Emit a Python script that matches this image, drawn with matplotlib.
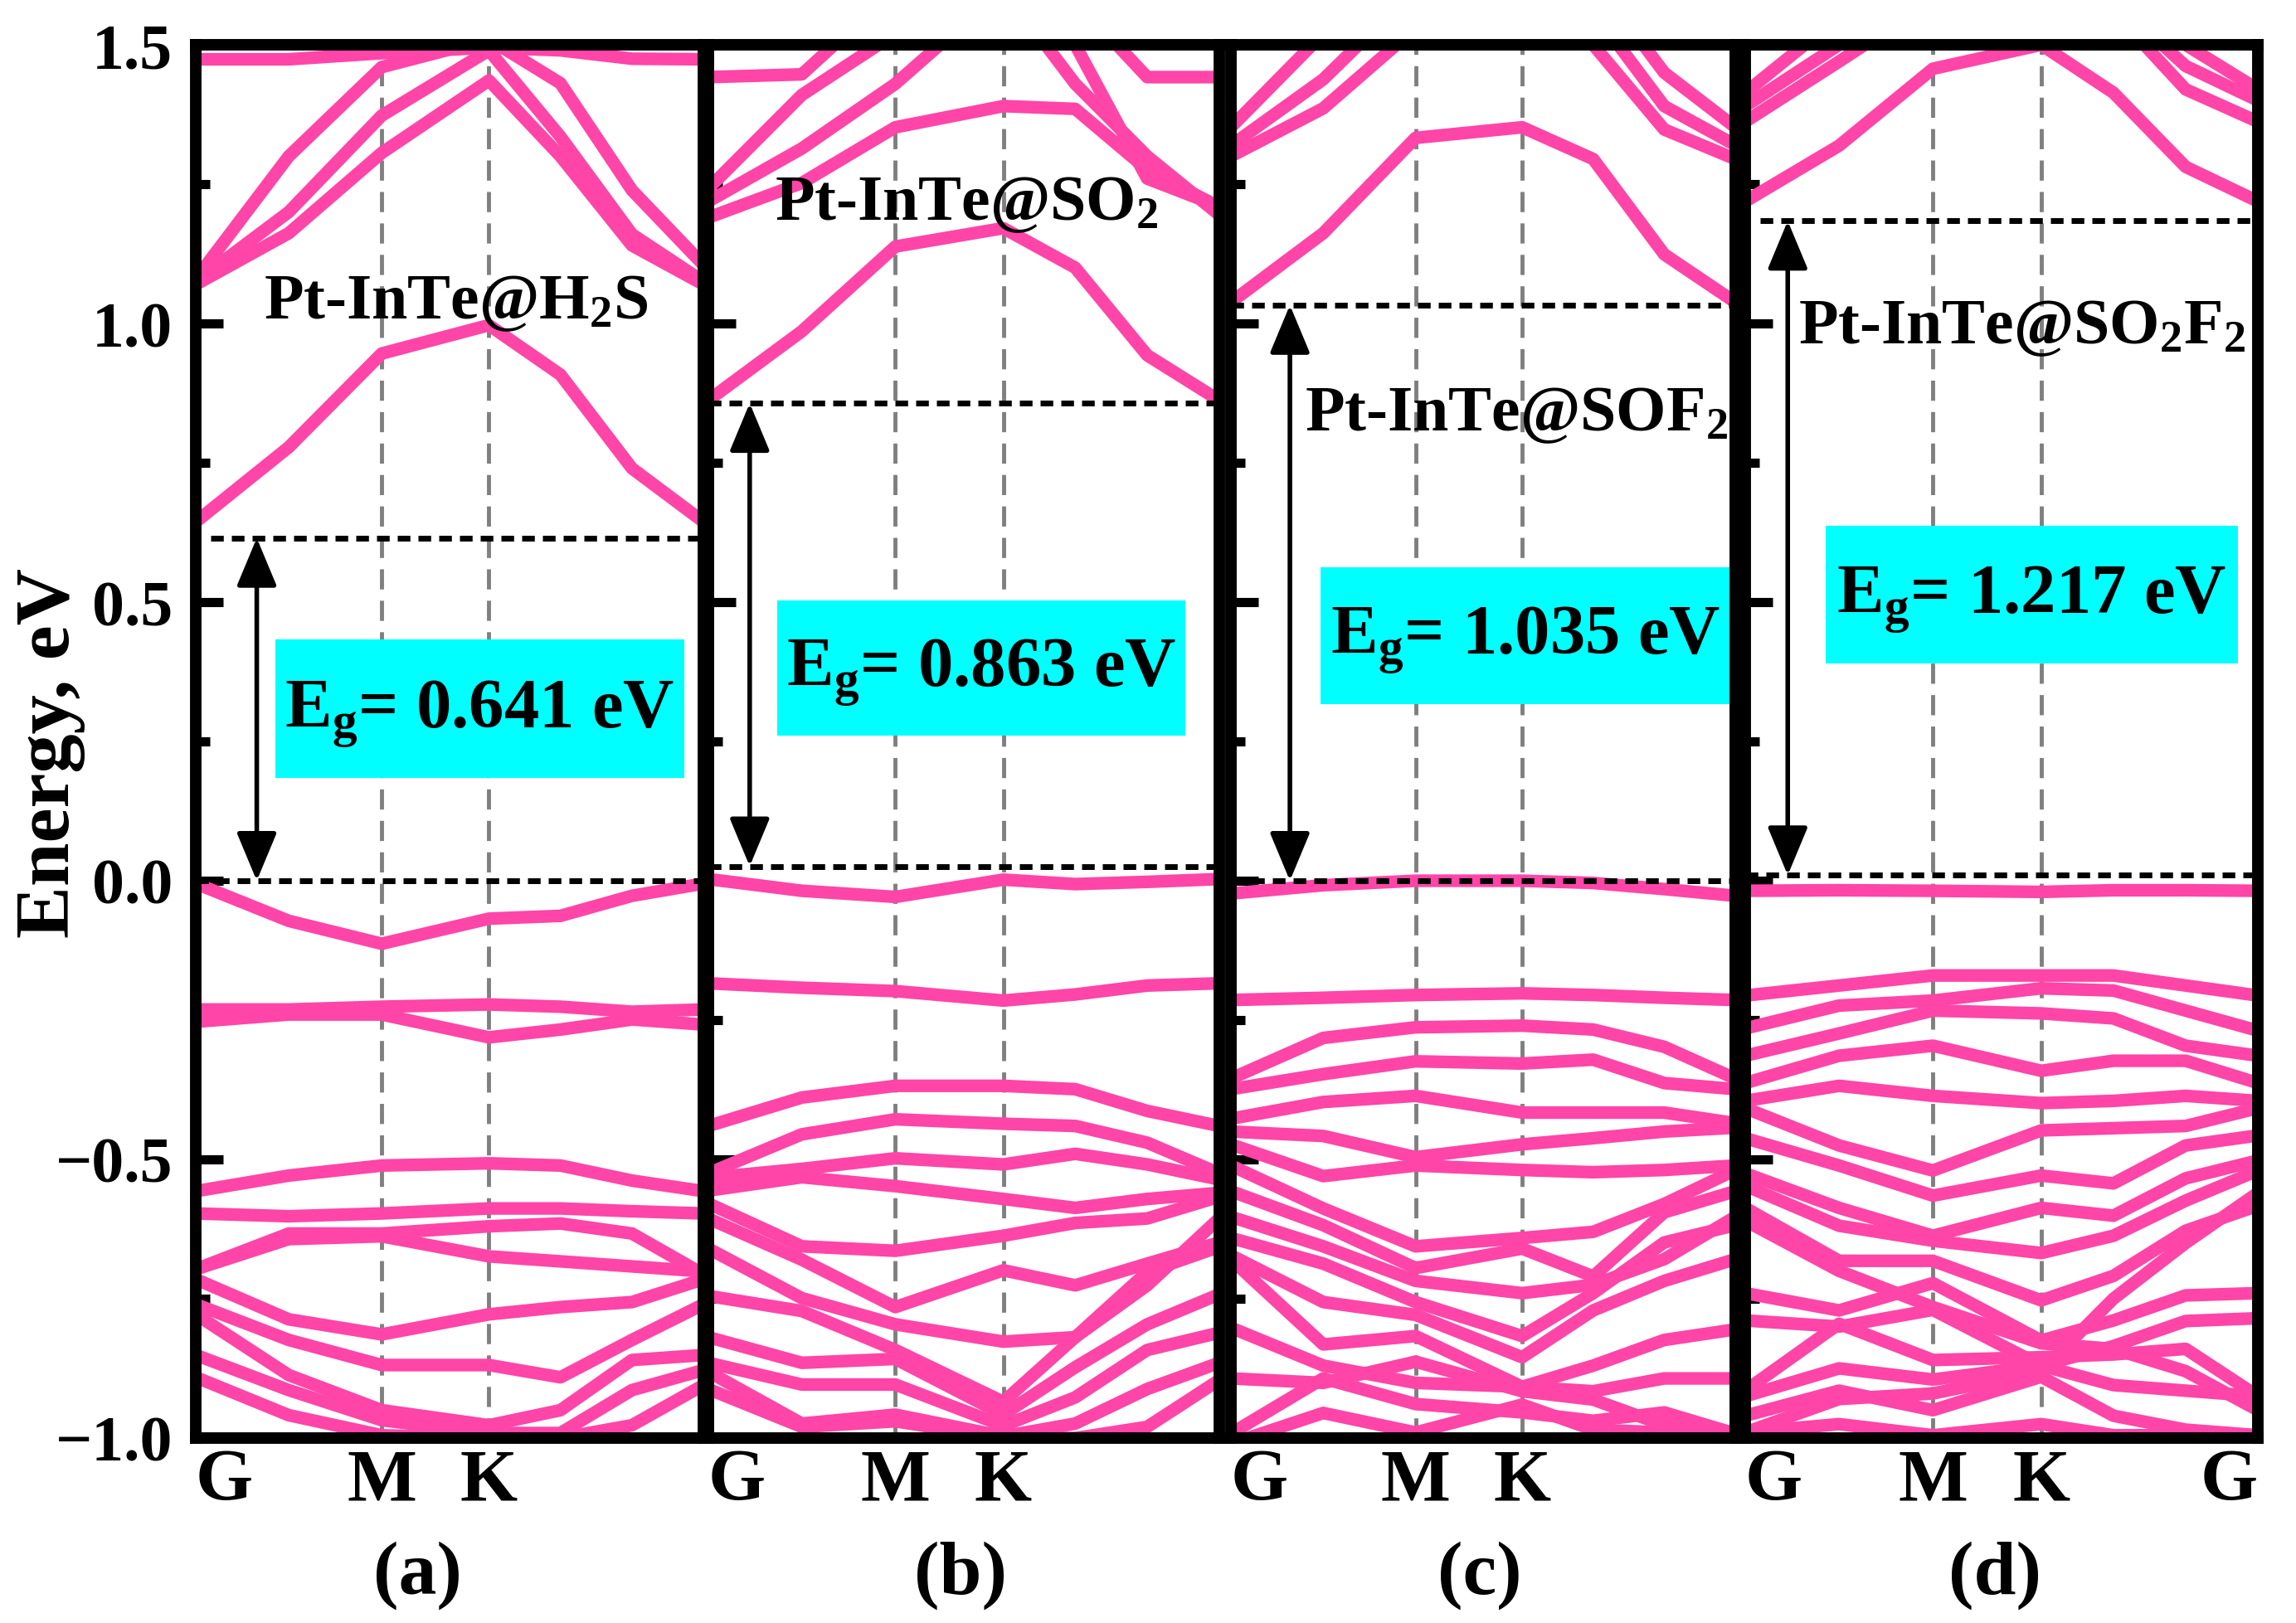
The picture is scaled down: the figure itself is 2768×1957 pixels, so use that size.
import numpy as np
import matplotlib
matplotlib.use("Agg")
import matplotlib.pyplot as plt
from matplotlib.patches import Rectangle

plt.rcParams["font.family"] = ["Liberation Serif", "DejaVu Serif"]
plt.rcParams["font.weight"] = "bold"
plt.rcParams["mathtext.fontset"] = "custom"
plt.rcParams["mathtext.rm"] = "Liberation Serif:bold"
plt.rcParams["mathtext.it"] = "Liberation Serif:bold"
plt.rcParams["mathtext.bf"] = "Liberation Serif:bold"
plt.rcParams["mathtext.default"] = "bf"

PINK = "#FF45A8"

# k-path G - M - K - G (hexagonal), with intermediate points
KPTS = [0.0, 0.2887, 0.5774, 0.9107, 1.1329, 1.3551, 1.5774]
K_LABEL_POS = [0.0, 0.5774, 0.9107, 1.5774]

# ---- (a) Pt-InTe@H2S ----
BANDS_A = [
    [0.644, 0.778, 0.946, 0.997, 0.908, 0.740, 0.644],
    [1.070, 1.162, 1.306, 1.436, 1.300, 1.140, 1.070],
    [1.075, 1.200, 1.373, 1.490, 1.335, 1.160, 1.075],
    [1.080, 1.300, 1.460, 1.510, 1.431, 1.239, 1.105],
    [1.474, 1.474, 1.485, 1.495, 1.490, 1.475, 1.474],
    [-0.005, -0.072, -0.113, -0.068, -0.063, -0.027, -0.005],
    [-0.231, -0.231, -0.226, -0.222, -0.226, -0.235, -0.231],
    [-0.253, -0.240, -0.240, -0.281, -0.267, -0.249, -0.258],
    [-0.557, -0.529, -0.511, -0.507, -0.511, -0.538, -0.557],
    [-0.597, -0.602, -0.597, -0.588, -0.588, -0.593, -0.597],
    [-0.697, -0.633, -0.633, -0.620, -0.615, -0.633, -0.706],
    [-0.697, -0.643, -0.638, -0.674, -0.683, -0.692, -0.701],
    [-0.715, -0.787, -0.814, -0.778, -0.765, -0.756, -0.715],
    [-0.760, -0.824, -0.869, -0.869, -0.891, -0.824, -0.760],
    [-0.778, -0.887, -0.950, -0.977, -0.950, -0.860, -0.851],
    [-0.851, -0.914, -0.968, -0.991, -0.991, -0.914, -0.878],
    [-0.891, -0.959, -0.995, -1.000, -1.000, -0.977, -0.905],
]

# ---- (b) Pt-InTe@SO2 ----
BANDS_B = [
    [0.862, 0.986, 1.138, 1.171, 1.100, 0.943, 0.862],
    [1.190, 1.252, 1.352, 1.390, 1.385, 1.276, 1.209],
    [1.219, 1.314, 1.430, 1.600, 1.430, 1.300, 1.195],
    [1.242, 1.410, 1.520, 1.650, 1.500, 1.260, 1.210],
    [1.442, 1.447, 1.600, 1.700, 1.580, 1.442, 1.442],
    [0.003, -0.018, -0.029, 0.002, -0.006, -0.002, 0.003],
    [-0.184, -0.192, -0.198, -0.215, -0.204, -0.188, -0.184],
    [-0.440, -0.389, -0.368, -0.368, -0.374, -0.413, -0.440],
    [-0.525, -0.455, -0.428, -0.436, -0.440, -0.470, -0.525],
    [-0.533, -0.517, -0.498, -0.509, -0.490, -0.509, -0.536],
    [-0.556, -0.532, -0.548, -0.571, -0.587, -0.571, -0.560],
    [-0.579, -0.656, -0.664, -0.637, -0.614, -0.606, -0.567],
    [-0.606, -0.680, -0.765, -0.699, -0.726, -0.687, -0.649],
    [-0.660, -0.749, -0.796, -0.827, -0.819, -0.726, -0.606],
    [-0.745, -0.772, -0.842, -0.935, -0.819, -0.702, -0.657],
    [-0.819, -0.865, -0.858, -0.958, -0.873, -0.796, -0.742],
    [-0.865, -0.904, -0.904, -0.978, -0.927, -0.842, -0.811],
    [-0.881, -0.974, -0.958, -0.997, -0.974, -0.912, -0.865],
    [-0.912, -0.980, -0.970, -1.000, -1.000, -0.980, -0.896],
]

# ---- (c) Pt-InTe@SOF2 ----
BANDS_C = [
    [1.038, 1.162, 1.333, 1.352, 1.295, 1.124, 1.038],
    [1.300, 1.386, 1.530, 1.700, 1.500, 1.348, 1.295],
    [1.319, 1.438, 1.600, 1.750, 1.560, 1.390, 1.320],
    [1.352, 1.520, 1.700, 1.800, 1.620, 1.450, 1.352],
    [-0.023, -0.008, 0.000, 0.000, -0.004, -0.015, -0.027],
    [-0.214, -0.210, -0.205, -0.202, -0.205, -0.210, -0.214],
    [-0.355, -0.282, -0.263, -0.260, -0.267, -0.298, -0.355],
    [-0.374, -0.347, -0.324, -0.328, -0.321, -0.363, -0.374],
    [-0.427, -0.397, -0.386, -0.416, -0.416, -0.416, -0.435],
    [-0.450, -0.458, -0.496, -0.473, -0.462, -0.450, -0.443],
    [-0.473, -0.530, -0.511, -0.519, -0.523, -0.519, -0.511],
    [-0.511, -0.588, -0.656, -0.641, -0.630, -0.580, -0.519],
    [-0.557, -0.618, -0.695, -0.660, -0.710, -0.595, -0.557],
    [-0.603, -0.656, -0.718, -0.740, -0.725, -0.679, -0.603],
    [-0.641, -0.687, -0.756, -0.817, -0.740, -0.649, -0.618],
    [-0.672, -0.756, -0.779, -0.855, -0.771, -0.718, -0.679],
    [-0.802, -0.870, -0.901, -0.908, -0.870, -0.824, -0.805],
    [-0.679, -0.832, -0.817, -0.908, -0.916, -0.893, -0.893],
    [-0.893, -0.901, -0.863, -0.916, -0.931, -0.977, -0.992],
    [-0.992, -0.893, -0.939, -0.954, -0.969, -0.954, -0.992],
    [-1.010, -0.955, -0.990, -0.940, -0.985, -0.990, -1.010],
]

# ---- (d) Pt-InTe@SO2F2 ----
BANDS_D = [
    [1.219, 1.319, 1.457, 1.500, 1.414, 1.281, 1.219],
    [1.362, 1.470, 1.580, 1.650, 1.560, 1.420, 1.362],
    [1.390, 1.500, 1.620, 1.700, 1.580, 1.462, 1.400],
    [1.414, 1.550, 1.660, 1.750, 1.640, 1.500, 1.420],
    [-0.018, -0.017, -0.018, -0.020, -0.017, -0.017, -0.018],
    [-0.206, -0.188, -0.170, -0.170, -0.170, -0.188, -0.206],
    [-0.265, -0.224, -0.215, -0.193, -0.197, -0.233, -0.269],
    [-0.314, -0.274, -0.233, -0.238, -0.247, -0.296, -0.314],
    [-0.363, -0.314, -0.296, -0.341, -0.323, -0.323, -0.363],
    [-0.395, -0.368, -0.386, -0.399, -0.395, -0.386, -0.395],
    [-0.408, -0.475, -0.520, -0.448, -0.444, -0.440, -0.408],
    [-0.462, -0.511, -0.565, -0.529, -0.543, -0.475, -0.457],
    [-0.525, -0.587, -0.637, -0.587, -0.601, -0.534, -0.502],
    [-0.547, -0.619, -0.646, -0.668, -0.637, -0.574, -0.520],
    [-0.587, -0.682, -0.682, -0.753, -0.709, -0.628, -0.583],
    [-0.610, -0.700, -0.765, -0.830, -0.840, -0.880, -0.950],
    [-0.740, -0.771, -0.722, -0.825, -0.789, -0.744, -0.740],
    [-0.789, -0.800, -0.770, -0.870, -0.835, -0.790, -0.785],
    [-0.915, -0.795, -0.860, -0.855, -0.850, -0.840, -0.925],
    [-0.925, -0.875, -0.895, -0.870, -0.905, -0.915, -0.925],
    [-0.960, -0.915, -0.950, -0.890, -0.960, -0.985, -0.995],
    [-0.990, -0.975, -0.995, -0.975, -0.995, -0.995, -0.995],
    [-0.990, -0.930, -0.920, -0.880, -0.750, -0.650, -0.560],
]

PANEL_BANDS = [BANDS_A, BANDS_B, BANDS_C, BANDS_D]
PANEL_NAMES = [r"Pt-InTe@H$_2$S", r"Pt-InTe@SO$_2$", r"Pt-InTe@SOF$_2$", r"Pt-InTe@SO$_2$F$_2$"]
PANEL_TAGS = ["(a)", "(b)", "(c)", "(d)"]
GAP_TEXT = ["0.641", "0.863", "1.035", "1.217"]
CBM_LINE = [0.615, 0.857, 1.033, 1.184]
VBM_LINE = [0.0, 0.026, 0.0, 0.010]

# layout (figure / axes fractions)
AX_LEFT = [0.0853, 0.3085, 0.5361, 0.7601]
AX_WIDTH = [0.2211, 0.2225, 0.2197, 0.2233]
AX_BOTTOM, AX_HEIGHT = 0.1139, 0.858
ARROW_X = [0.12, 0.081, 0.117, 0.083]
BOX = [(0.157, 0.962, 0.474, 0.573), (0.135, 0.933, 0.504, 0.601),
       (0.178, 0.990, 0.527, 0.625), (0.157, 0.961, 0.556, 0.655)]
NAME_POS = [(0.512, 0.804), (0.506, 0.875), (0.566, 0.7235), (0.541, 0.786)]
TAG_X = [0.436, 0.494, 0.493, 0.487]
DOT_X0 = [0.03, 0.0, 0.0, 0.03]

fig = plt.figure(figsize=(27.68, 19.58), dpi=100)

for i in range(4):
    ax = fig.add_axes([AX_LEFT[i], AX_BOTTOM, AX_WIDTH[i], AX_HEIGHT])
    ax.set_xlim(KPTS[0], KPTS[-1])
    ax.set_ylim(-1.0, 1.5)

    for xv in K_LABEL_POS[1:3]:
        ax.axvline(xv, color="#7f7f7f", lw=3.5, linestyle=(0, (5, 2.8)), zorder=1)

    for band in PANEL_BANDS[i]:
        ax.plot(KPTS, band, color=PINK, lw=11, solid_joinstyle="round", zorder=2)

    ax.axhline(CBM_LINE[i], xmin=DOT_X0[i], xmax=1.0, color="black", lw=5,
               linestyle=(0, (2.2, 1.4)), zorder=3)
    ax.axhline(VBM_LINE[i], xmin=0.0, xmax=1.0, color="black", lw=5,
               linestyle=(0, (2.2, 1.4)), zorder=3)

    ax.annotate("", xy=(ARROW_X[i], VBM_LINE[i]), xytext=(ARROW_X[i], CBM_LINE[i]),
                xycoords=("axes fraction", "data"), textcoords=("axes fraction", "data"),
                arrowprops=dict(arrowstyle="<|-|>,head_length=0.6,head_width=0.25",
                                color="black", lw=4, mutation_scale=60,
                                shrinkA=0, shrinkB=0), zorder=4)

    x0, x1, y0, y1 = BOX[i]
    ax.add_patch(Rectangle((x0, y0), x1 - x0, y1 - y0, transform=ax.transAxes,
                           facecolor="#00FFFF", edgecolor="none", zorder=5))
    ax.text((x0 + x1) / 2, y0 + 0.036, r"E$_\mathregular{g}$= " + GAP_TEXT[i] + " eV",
            transform=ax.transAxes, ha="center", va="baseline", fontsize=61,
            fontweight="bold", zorder=6)

    nx, ny = NAME_POS[i]
    ax.text(nx, ny, PANEL_NAMES[i], transform=ax.transAxes, ha="center",
            va="baseline", fontsize=56, fontweight="bold", zorder=6)

    ax.text(TAG_X[i], -0.098, PANEL_TAGS[i], transform=ax.transAxes, ha="center",
            va="center", fontsize=66, fontweight="bold")

    for sp in ax.spines.values():
        sp.set_linewidth(10)
        sp.set_zorder(7)

    ax.set_yticks([-1.0, -0.5, 0.0, 0.5, 1.0, 1.5])
    ax.set_yticks(np.arange(-1.0, 1.51, 0.25), minor=True)
    ax.tick_params(axis="y", which="major", direction="in", length=24, width=8,
                   labelsize=56, pad=20)
    ax.tick_params(axis="y", which="minor", direction="in", length=12, width=8)
    if i == 0:
        ax.set_yticklabels(["\u22121.0", "\u22120.5", "0.0", "0.5", "1.0", "1.5"])
    else:
        ax.set_yticklabels([])

    if i == 3:
        ax.set_xticks(K_LABEL_POS)
        ax.set_xticklabels(["G", "M", "K", "G"])
    else:
        ax.set_xticks(K_LABEL_POS[:3])
        ax.set_xticklabels(["G", "M", "K"])
    ax.tick_params(axis="x", length=0, labelsize=64, pad=8)
    labels = ax.get_xticklabels()
    labels[0].set_horizontalalignment("left")
    if i == 3:
        labels[-1].set_horizontalalignment("right")

fig.text(0.0217, 0.536, "Energy, eV", rotation=90, ha="center", va="center",
         fontsize=68, fontweight="bold")

fig.savefig("out.png", dpi=100)
